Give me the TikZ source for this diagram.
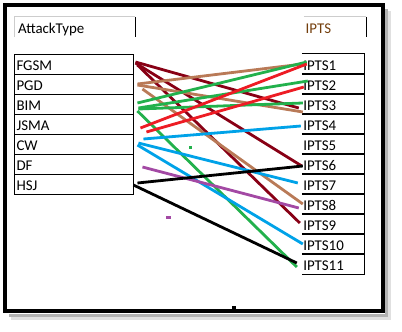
\documentclass[tikz,border=0pt]{standalone}
\usepackage{fontspec}
\setmainfont{Carlito}
\usetikzlibrary{calc}
\definecolor{pmaroon}{RGB}{136,0,21}
\definecolor{pbrown}{RGB}{185,122,87}
\definecolor{pgreen}{RGB}{34,177,76}
\definecolor{pred}{RGB}{237,28,36}
\definecolor{pblue}{RGB}{0,162,232}
\definecolor{ppurple}{RGB}{163,73,164}
\definecolor{hdrtext}{RGB}{115,62,12}
\definecolor{hdrline}{RGB}{205,205,205}

\begin{document}
\begin{tikzpicture}[
  x=1pt, y=-1pt,
  font=\fontsize{14.9}{16}\selectfont,
  cell/.style={inner ysep=2pt, text height=14pt, text depth=2pt,
               align=left, anchor=center},
  lcell/.style={cell, draw, line width=0.9pt, inner xsep=2.5pt, text width=114pt},
  rcell/.style={cell, inner xsep=1.3pt, text width=59.4pt},
  grid/.style={line width=0.9pt},
  lnk/.style={line width=2.8pt}
]
  \useasboundingbox (0,0) rectangle (402,332);
  % frame with shadow
  \draw[black!12, line width=3pt] (389,11) -- (389,318) -- (11,318);
  \draw[black!30, line width=3pt] (386,9) -- (386,315) -- (9,315);
  \draw[line width=4pt] (5,5) rectangle (382.5,311);
  \fill (232,306) rectangle (236,309);

  % headers
  \node[cell, inner xsep=3pt, text width=114pt] (atk) at (75,27) {AttackType};
  \node[cell, inner xsep=1.7pt, text width=58.6pt, text=hdrtext] (ipts) at (335,27) {IPTS};
  \draw[grid, hdrline] (atk.south west) -- (atk.north west) -- (atk.north east);
  \draw[grid] (atk.north east) -- (atk.south east);
  \draw[grid, hdrline] (ipts.north west) -- (ipts.north east);
  \draw[grid] (ipts.north east) -- (ipts.south east);

  % left table
  \foreach \n/\t [count=\i] in {fgsm/FGSM,pgd/PGD,bim/BIM,jsma/JSMA,cw/CW,df/DF,hsj/HSJ}
    \node[lcell] (\n) at (73.5,{44+20*\i}) {\t};

  % right table
  \foreach \i in {1,...,11}{
    \node[rcell] (p\i) at (333,{44+20*\i}) {IPTS\i};
    \draw[grid] (p\i.north west) -- (p\i.north east) -- (p\i.south east) -- (p\i.south west);
  }

  % links
  \foreach \a/\ax/\ay/\b/\bx/\by/\c in {
      fgsm/2/-2/p3/-3/4/pmaroon, fgsm/2/-1/p6/0/2/pmaroon, fgsm/4/1/p9/-2/-1/pmaroon,
      pgd/4/0/p1/1/0/pbrown, pgd/4/1/p3/1/8/pbrown, pgd/9/5/p8/1/0/pbrown,
      bim/4/-1/p1/5/-2/pgreen, bim/5/4/p2/6/-3/pgreen, bim/5/5/p3/1/-1/pgreen,
      bim/4/7/p11/-5/3/pgreen,
      jsma/7/4/p1/5/0/pred, jsma/13/8/p2/2/3/pred,
      cw/10/-5/p4/-1/2/pblue, cw/5/-1/p7/-4/-1/pblue, cw/4/1/p10/1/0/pblue,
      df/9/3/p8/-3/4/ppurple,
      hsj/4/-1/p6/1/2/black, hsj/0/1/p11/-5/-1/black}
    \draw[lnk, \c] ($(\a.east)+(\ax,\ay)$) -- ($(\b.west)+(\bx,\by)$);

  % stray marks
  \fill[ppurple] (166,216) rectangle (171,218.5);
  \fill[pgreen] (189,146) rectangle (192,148.5);
\end{tikzpicture}
\end{document}
